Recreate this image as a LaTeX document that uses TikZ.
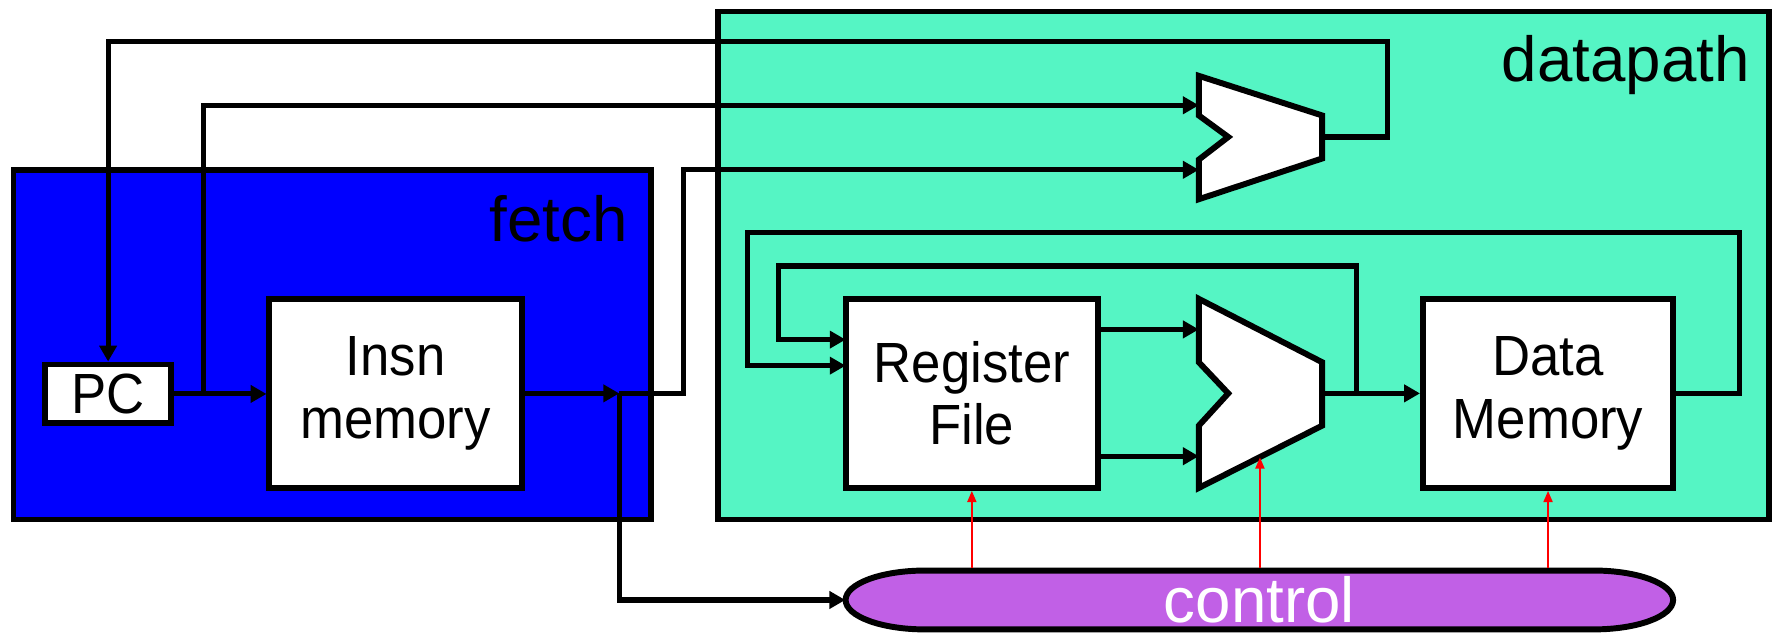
\documentclass[tikz,border=0pt]{standalone}
\usepackage{fontspec}
\setmainfont{Liberation Sans}
\newfontfamily\boxfont{Liberation Sans}[FakeStretch=0.93]
\usetikzlibrary{arrows.meta,calc}
\definecolor{fetchblue}{RGB}{0,0,255}
\definecolor{dpgreen}{RGB}{85,245,196}
\definecolor{ctrlpurple}{RGB}{193,96,230}
\definecolor{ctlred}{RGB}{255,0,0}
\begin{document}
\begin{tikzpicture}[x=0.02cm,y=-0.02cm,
  wire/.style={line width=0.09cm, line join=miter},
  arr/.style={wire,-{Triangle[length=0.28cm,width=0.3cm]}},
  ctlarr/.style={draw=ctlred, line width=0.035cm, -{Triangle[length=0.2cm,width=0.16cm]}},
  block/.style={draw, line width=0.105cm, fill=white, align=center, font=\boxfont\fontsize{28.5}{31.5}\selectfont, inner sep=0pt},
  region/.style={draw, line width=0.1cm},
  shapeline/.style={line width=0.105cm, line join=miter},
  lbl/.style={font=\fontsize{32}{36}\selectfont, inner sep=0pt},
]
\useasboundingbox (0,0) rectangle (1568,561);

% regions
\node[region, fill=fetchblue, minimum width=11.26cm, minimum height=6.18cm] (fetch) at (293.5,304.5) {};
\node[region, fill=dpgreen, minimum width=18.58cm, minimum height=8.98cm] (dp) at (1098.5,234.5) {};
\node[lbl, anchor=base east] (fetchlbl) at (555,213) {fetch};
\node[lbl, anchor=base east] (dplbl) at (1546,72) {datapath};

% blocks
\node[block, minimum width=2.22cm, minimum height=1.04cm] (pc) at (95.5,348) {PC};
\node[block, minimum width=4.46cm, minimum height=3.34cm] (insn) at (349.5,347.5) {Insn\\memory};
\node[block, minimum width=4.46cm, minimum height=3.34cm] (rf) at (858.5,347.5) {Register\\File};
\node[block, minimum width=4.42cm, minimum height=3.34cm] (dm) at (1367.5,347.5) {Data\\Memory};

% muxes
\draw[shapeline, fill=white] (1059,67) -- (1168,102) -- (1168,140) -- (1059,176) -- (1059,141) -- (1085,121) -- (1059,102) -- cycle;
\coordinate (m1a) at (1059,93);
\coordinate (m1b) at (1059,150);
\coordinate (m1o) at (1168,121);
\draw[shapeline, fill=white] (1059,264) -- (1168,320) -- (1168,376) -- (1059,431) -- (1059,376) -- (1085,347.5) -- (1059,320) -- cycle;
\coordinate (alua) at (1059,291);
\coordinate (alub) at (1059,403);
\coordinate (aluo) at (1168,347.5);
\coordinate (aluc) at (1113,404);

% control
\draw[shapeline, fill=ctrlpurple] (817,504) -- (1408,504) arc[start angle=90,end angle=-90,x radius=1.4cm,y radius=0.52cm] -- (817,556) arc[start angle=270,end angle=90,x radius=1.4cm,y radius=0.52cm] -- cycle;
\node[minimum width=14.62cm, minimum height=1.12cm, inner sep=0pt, text=white, font=\fontsize{32}{36}\selectfont] (ctrl) at (1112.5,530) {control};

% coordinates
\coordinate (b1) at (180,348);
\coordinate (j1) at (547,347.5);
\coordinate (j3) at (1198,347.5);
\coordinate (rfa) at (747,300);
\coordinate (rfb) at (747,323);

% wires
\draw[arr] (m1o) -| (1226,37) -| (pc.north);
\draw[arr] (pc.east) -- (pc.east -| insn.west);
\draw[arr] (b1) |- (m1a);
\draw[arr] (insn.east) -- (j1);
\draw[arr] (j1) -- (604,347.5) |- (m1b);
\draw[arr] (j1) |- (ctrl.west);
\draw[arr] (rf.east |- alua) -- (alua);
\draw[arr] (rf.east |- alub) -- (alub);
\draw[arr] (aluo) -- (aluo -| dm.west);
\draw[arr] (j3) -- (1198,235) -| (688,300) -- (rfa);
\draw[arr] (dm.east) -- (1537,347.5) |- (660,205) |- (rfb);

% control signals
\draw[ctlarr] (ctrl.north -| rf.south) -- (rf.south);
\draw[ctlarr] (ctrl.north -| aluc) -- (aluc);
\draw[ctlarr] (ctrl.north -| dm.south) -- (dm.south);
\end{tikzpicture}
\end{document}
